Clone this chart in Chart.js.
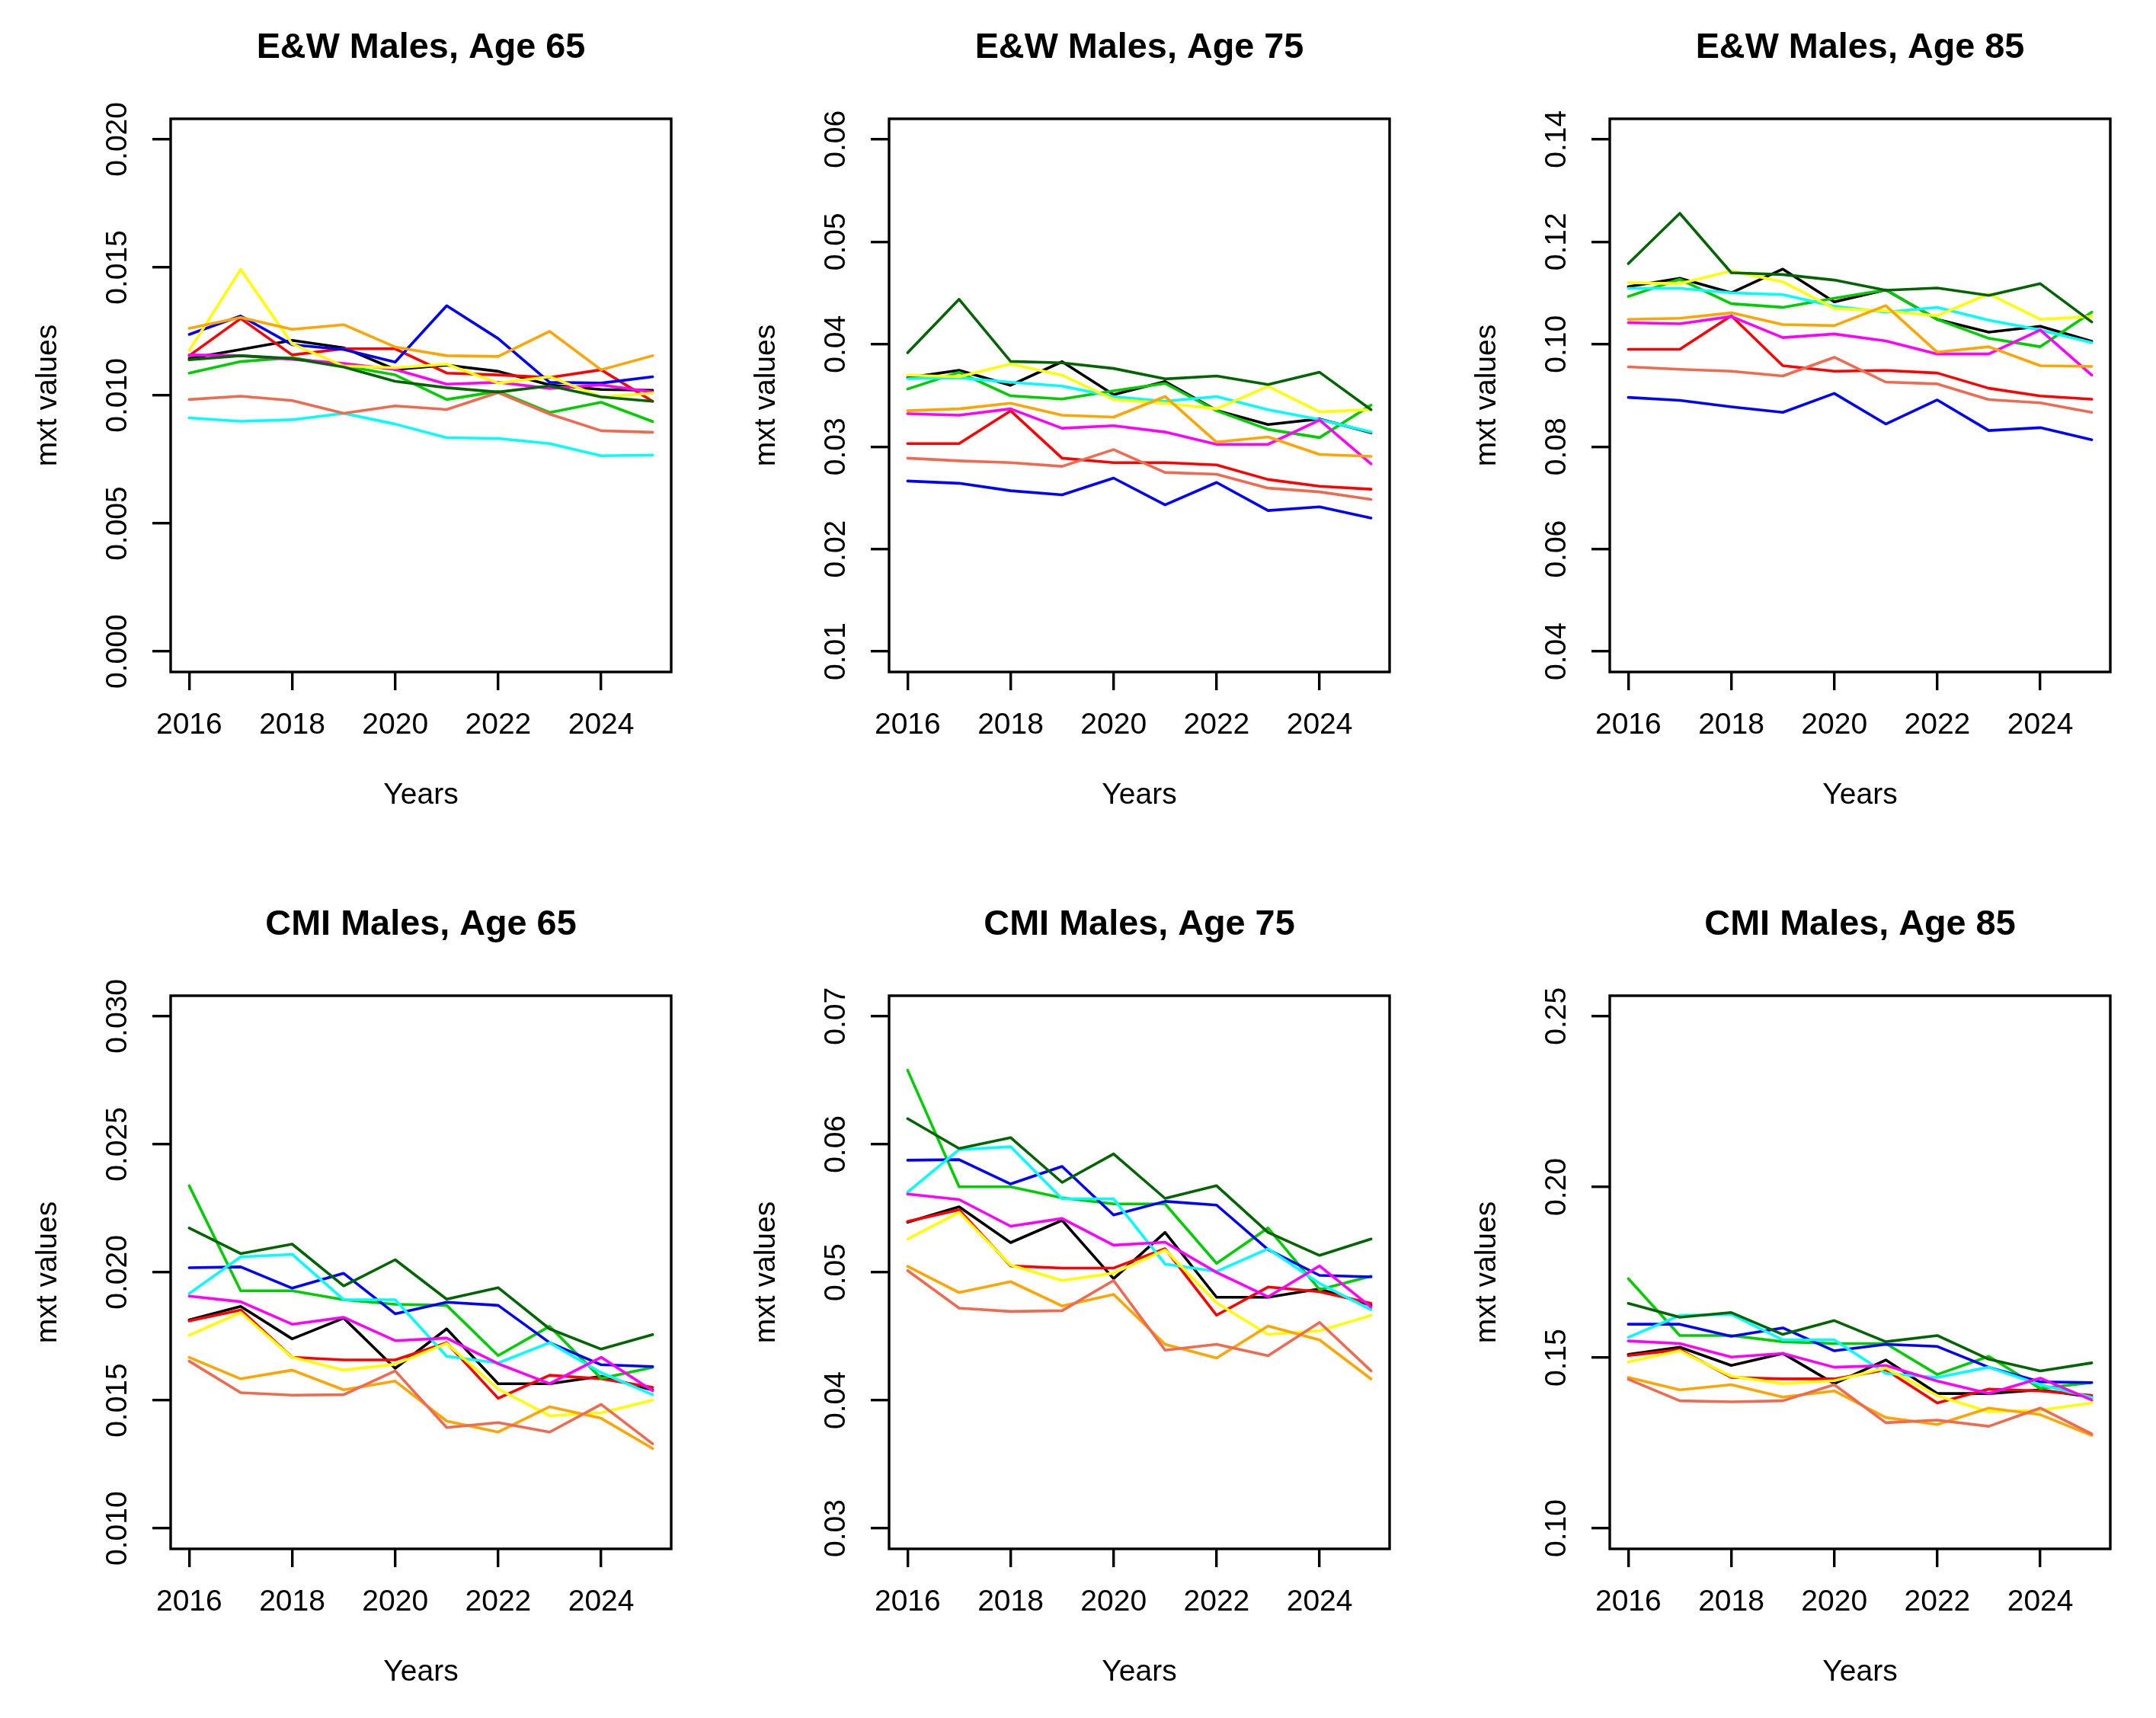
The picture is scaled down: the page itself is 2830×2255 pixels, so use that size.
<!DOCTYPE html>
<html><head><meta charset="utf-8">
<script src="https://cdn.jsdelivr.net/npm/chart.js@4.4.1/dist/chart.umd.min.js"></script>
<style>
html,body{margin:0;padding:0;background:#fff;overflow:hidden;width:2830px;height:2255px;position:relative;}
canvas{position:absolute;}
</style></head><body>
<canvas id="c0" width="943" height="1127" style="left:0px;top:0px"></canvas>
<canvas id="c1" width="943" height="1127" style="left:943px;top:0px"></canvas>
<canvas id="c2" width="943" height="1127" style="left:1889px;top:0px"></canvas>
<canvas id="c3" width="943" height="1127" style="left:0px;top:1151px"></canvas>
<canvas id="c4" width="943" height="1127" style="left:943px;top:1151px"></canvas>
<canvas id="c5" width="943" height="1127" style="left:1889px;top:1151px"></canvas>
<script>
// ---- data ----
const years = [2016,2017,2018,2019,2020,2021,2022,2023,2024,2025];
const xTicks = [2016,2018,2020,2022,2024];
const seriesNames = ['black','red','green3','blue','cyan','magenta','yellow','orange','coral2','darkgreen'];
const seriesColors = ['#000000','#FF0000','#00CD00','#0000FF','#00FFFF','#FF00FF','#FFFF00','#FFA500','#EE6A50','#006400'];
const panelTitles = ['E&W Males, Age 65','E&W Males, Age 75','E&W Males, Age 85','CMI Males, Age 65','CMI Males, Age 75','CMI Males, Age 85'];

// rows follow seriesNames order
const ew65 = [
  [0.01144,0.01179,0.01215,0.01186,0.01101,0.01118,0.01094,0.01041,0.01023,0.0102],
  [0.01155,0.0130,0.01158,0.01182,0.01182,0.01087,0.0108,0.0107,0.0110,0.00977],
  [0.01087,0.01132,0.01147,0.01115,0.0108,0.00984,0.01016,0.00933,0.00973,0.00898],
  [0.01238,0.0131,0.01198,0.01179,0.0113,0.0135,0.01222,0.01051,0.01048,0.01073],
  [0.00912,0.00899,0.00905,0.0093,0.00888,0.00835,0.00832,0.00812,0.00764,0.00767],
  [0.01158,0.01155,0.01141,0.01125,0.01101,0.01044,0.01051,0.01027,0.01041,0.01013],
  [0.01175,0.01492,0.01201,0.01115,0.01108,0.01122,0.01048,0.01073,0.00994,0.01009],
  [0.01262,0.01304,0.01258,0.01276,0.01189,0.01155,0.01152,0.0125,0.0110,0.01155],
  [0.00984,0.00997,0.0098,0.0093,0.00959,0.00945,0.01011,0.00927,0.00862,0.00856],
  [0.01139,0.01155,0.01144,0.01111,0.01055,0.0103,0.01013,0.01037,0.00994,0.00977]
];
const ew75 = [
  [0.03672,0.03745,0.03599,0.03829,0.03507,0.03635,0.03354,0.03215,0.0327,0.03135],
  [0.03029,0.03029,0.0335,0.02887,0.02843,0.02843,0.02821,0.02679,0.02613,0.02584],
  [0.03562,0.03726,0.03496,0.03464,0.03544,0.03617,0.0335,0.03168,0.03088,0.03405],
  [0.02664,0.02642,0.02569,0.02529,0.02693,0.02431,0.0265,0.02376,0.02412,0.02303],
  [0.03664,0.03672,0.03628,0.03591,0.03489,0.03442,0.03489,0.03361,0.03263,0.03142],
  [0.03321,0.03307,0.03369,0.03179,0.03204,0.03142,0.03022,0.03022,0.03259,0.02832],
  [0.03697,0.03682,0.03807,0.03697,0.0346,0.03423,0.03369,0.03588,0.03339,0.03361],
  [0.0335,0.03369,0.03423,0.03307,0.03288,0.03489,0.03044,0.03095,0.02923,0.02905],
  [0.02887,0.02861,0.02843,0.02807,0.02971,0.02748,0.0273,0.02595,0.02558,0.02485],
  [0.03916,0.04438,0.03832,0.03818,0.03763,0.03661,0.0369,0.03606,0.03726,0.03361]
];
const ew85 = [
  [0.11124,0.11288,0.11003,0.11466,0.10825,0.1106,0.10484,0.10235,0.10349,0.10057],
  [0.099,0.099,0.10555,0.0958,0.09473,0.09487,0.09437,0.09139,0.08989,0.08925],
  [0.10932,0.11267,0.1079,0.10719,0.10896,0.1106,0.10484,0.10114,0.0995,0.10626],
  [0.08961,0.08904,0.08776,0.08669,0.09039,0.08441,0.08911,0.08313,0.0837,0.08135],
  [0.11089,0.11089,0.11003,0.10968,0.1074,0.10626,0.10719,0.10469,0.10277,0.10028],
  [0.1042,0.10398,0.10541,0.10128,0.10199,0.10064,0.09808,0.09808,0.10277,0.09395],
  [0.11202,0.11181,0.1143,0.11217,0.10697,0.10647,0.10555,0.10982,0.10484,0.10541],
  [0.10484,0.10505,0.10612,0.10384,0.10363,0.10754,0.09843,0.0995,0.0958,0.09566],
  [0.09558,0.09509,0.09473,0.0938,0.09744,0.0926,0.09224,0.08918,0.08854,0.08669],
  [0.11573,0.12555,0.11395,0.11359,0.11252,0.11053,0.11096,0.10953,0.11181,0.10434]
];
const cmi65 = [
  [0.01814,0.01867,0.0174,0.01821,0.01625,0.01779,0.01565,0.01565,0.01594,0.0154],
  [0.0181,0.01853,0.01668,0.01658,0.01658,0.01725,0.01508,0.01598,0.01584,0.01551],
  [0.02338,0.01928,0.01928,0.01893,0.01875,0.01871,0.01675,0.01789,0.01586,0.01629],
  [0.02018,0.02021,0.01938,0.01996,0.01838,0.01883,0.01871,0.01725,0.01639,0.01632],
  [0.01917,0.0206,0.0207,0.01893,0.01893,0.01672,0.01646,0.01725,0.01608,0.01522],
  [0.01907,0.01885,0.01797,0.01824,0.01733,0.01743,0.01643,0.01565,0.01668,0.01537],
  [0.01754,0.01843,0.01668,0.01618,0.01641,0.01722,0.01544,0.0144,0.01451,0.01501],
  [0.01668,0.01584,0.01618,0.01541,0.01575,0.01419,0.01376,0.01475,0.0143,0.01312],
  [0.01653,0.0153,0.0152,0.01522,0.01615,0.01394,0.01413,0.01376,0.01484,0.0133],
  [0.02173,0.02073,0.0211,0.01947,0.02049,0.01895,0.0194,0.01779,0.017,0.01757]
];
const cmi75 = [
  [0.05391,0.05511,0.05232,0.05406,0.0495,0.05312,0.04805,0.04805,0.0487,0.04742],
  [0.05397,0.05488,0.0505,0.05033,0.05033,0.05184,0.04665,0.04885,0.04848,0.04757],
  [0.06579,0.05668,0.05668,0.05582,0.05534,0.05534,0.0507,0.05346,0.04865,0.0497],
  [0.05875,0.0588,0.0569,0.05827,0.05448,0.05554,0.05525,0.05178,0.04976,0.04964],
  [0.05625,0.05958,0.05981,0.05574,0.05574,0.05064,0.05007,0.05184,0.04913,0.04708],
  [0.05611,0.05568,0.0536,0.0542,0.05212,0.05235,0.04999,0.04808,0.0505,0.04728],
  [0.0526,0.05468,0.05056,0.04936,0.04993,0.05175,0.04762,0.04515,0.04543,0.04663],
  [0.05047,0.04842,0.04927,0.04737,0.04828,0.04438,0.0433,0.0458,0.04472,0.04167],
  [0.05013,0.0472,0.04694,0.047,0.04936,0.04392,0.04438,0.04349,0.04609,0.0423],
  [0.062,0.05967,0.06052,0.05702,0.05924,0.05577,0.05676,0.05312,0.05132,0.0526]
];
const cmi85 = [
  [0.15093,0.15306,0.14773,0.15125,0.14239,0.14933,0.1395,0.1395,0.14057,0.13844],
  [0.15061,0.15232,0.1442,0.14378,0.14378,0.14644,0.13673,0.14079,0.14025,0.13897],
  [0.17314,0.15648,0.15648,0.15467,0.15413,0.15413,0.14506,0.15039,0.141,0.14271],
  [0.15979,0.15979,0.15627,0.15872,0.152,0.15392,0.15328,0.14719,0.14292,0.14271],
  [0.15595,0.16235,0.16267,0.1552,0.1552,0.14538,0.1442,0.14719,0.14207,0.13833],
  [0.15488,0.15413,0.15018,0.15125,0.14719,0.14773,0.14313,0.1395,0.14399,0.13758],
  [0.14879,0.152,0.14452,0.14239,0.14324,0.14698,0.13886,0.13417,0.13459,0.13673],
  [0.1442,0.14057,0.14207,0.13844,0.14025,0.13246,0.13043,0.13523,0.13331,0.12723],
  [0.14367,0.13737,0.13705,0.13737,0.14207,0.13096,0.13171,0.1299,0.13523,0.12765],
  [0.16588,0.16182,0.16321,0.1568,0.16086,0.15467,0.15648,0.14954,0.14612,0.14847]
];

const yTicksEw65 = [0, 0.005, 0.010, 0.015, 0.020];
const yLabelsEw65 = ['0.000','0.005','0.010','0.015','0.020'];
const yTicksEw75 = [0.01,0.02,0.03,0.04,0.05,0.06];
const yLabelsEw75 = ['0.01','0.02','0.03','0.04','0.05','0.06'];
const yTicksEw85 = [0.04,0.06,0.08,0.10,0.12,0.14];
const yLabelsEw85 = ['0.04','0.06','0.08','0.10','0.12','0.14'];
const yTicksCmi65 = [0.010,0.015,0.020,0.025,0.030];
const yLabelsCmi65 = ['0.010','0.015','0.020','0.025','0.030'];
const yTicksCmi75 = [0.03,0.04,0.05,0.06,0.07];
const yLabelsCmi75 = ['0.03','0.04','0.05','0.06','0.07'];
const yTicksCmi85 = [0.10,0.15,0.20,0.25];
const yLabelsCmi85 = ['0.10','0.15','0.20','0.25'];

// ---- drawing ----
const FONT = "'Liberation Sans', Arial, Helvetica, sans-serif";
const AX = 39;

function measure(text, font) {
  const c = document.createElement('canvas').getContext('2d');
  c.font = font;
  return c.measureText(text).width;
}

const boxPlugin = {
  id: 'rbox',
  afterDatasetsDraw(chart) {
    const {ctx, chartArea: a} = chart;
    ctx.save();
    ctx.strokeStyle = '#000';
    ctx.lineWidth = 3.4;
    ctx.strokeRect(a.left, a.top, a.right - a.left, a.bottom - a.top);
    ctx.restore();
  }
};

function makeChart(id, title, rows, yTicks, yLabels) {
  const lo = yTicks[0], hi = yTicks[yTicks.length - 1], ext = (hi - lo) * 0.04;
  const xlo = years[0], xhi = years[years.length - 1], xext = (xhi - xlo) * 0.04;
  const tickFont = {family: FONT, size: AX, lineHeight: 1.2};
  const widest = Math.max(...yLabels.map(l => measure(l, AX + 'px ' + FONT)));
  const gridOpts = {display: true, drawOnChartArea: false, drawTicks: true, tickLength: 24, lineWidth: 3.4, color: '#000'};
  new Chart(document.getElementById(id), {
    type: 'line',
    data: {
      datasets: rows.map((r, i) => ({
        label: seriesNames[i],
        data: r.map((v, j) => ({x: years[j], y: v})),
        borderColor: seriesColors[i],
        backgroundColor: seriesColors[i],
        borderWidth: 3.6,
        pointRadius: 0,
        tension: 0,
        fill: false,
        order: -i,
        borderJoinStyle: 'round',
        borderCapStyle: 'round'
      }))
    },
    options: {
      responsive: false,
      animation: false,
      events: [],
      devicePixelRatio: 1,
      layout: {padding: {left: 0, right: 62, top: 0, bottom: 45}, autoPadding: false},
      plugins: {
        legend: {display: false},
        tooltip: {enabled: false},
        title: {
          display: true, text: title, fullSize: false, color: '#000',
          font: {family: FONT, size: 46.8, weight: 'bold', lineHeight: 1.2},
          padding: {top: 34.7, bottom: 65.1}
        }
      },
      scales: {
        x: {
          type: 'linear', min: xlo - xext, max: xhi + xext,
          afterBuildTicks: s => { s.ticks = xTicks.map(v => ({value: v})); },
          afterFit: s => { s.height = 200; },
          ticks: {autoSkip: false, maxRotation: 0, minRotation: 0, color: '#000', font: tickFont, padding: 23.1,
                  callback: v => String(v)},
          grid: gridOpts,
          border: {display: false},
          title: {display: true, text: 'Years', color: '#000', font: {family: FONT, size: AX, lineHeight: 1.2},
                  padding: {top: 0, bottom: 14.1}}
        },
        y: {
          type: 'linear', min: lo - ext, max: hi + ext,
          afterBuildTicks: s => { s.ticks = yTicks.map(v => ({value: v})); },
          afterFit: s => { s.width = 224; },
          ticks: {autoSkip: false, minRotation: 90, maxRotation: 90, crossAlign: 'center', color: '#000',
                  font: tickFont, padding: 45 - widest / 2, callback: (v, i) => yLabels[i]},
          grid: gridOpts,
          border: {display: false},
          title: {display: true, text: 'mxt values', color: '#000', font: {family: FONT, size: AX, lineHeight: 1.2},
                  padding: {top: 40.1, bottom: 0}}
        }
      }
    },
    plugins: [boxPlugin]
  });
}

makeChart('c0', panelTitles[0], ew65, yTicksEw65, yLabelsEw65);
makeChart('c1', panelTitles[1], ew75, yTicksEw75, yLabelsEw75);
makeChart('c2', panelTitles[2], ew85, yTicksEw85, yLabelsEw85);
makeChart('c3', panelTitles[3], cmi65, yTicksCmi65, yLabelsCmi65);
makeChart('c4', panelTitles[4], cmi75, yTicksCmi75, yLabelsCmi75);
makeChart('c5', panelTitles[5], cmi85, yTicksCmi85, yLabelsCmi85);
</script>
</body></html>
